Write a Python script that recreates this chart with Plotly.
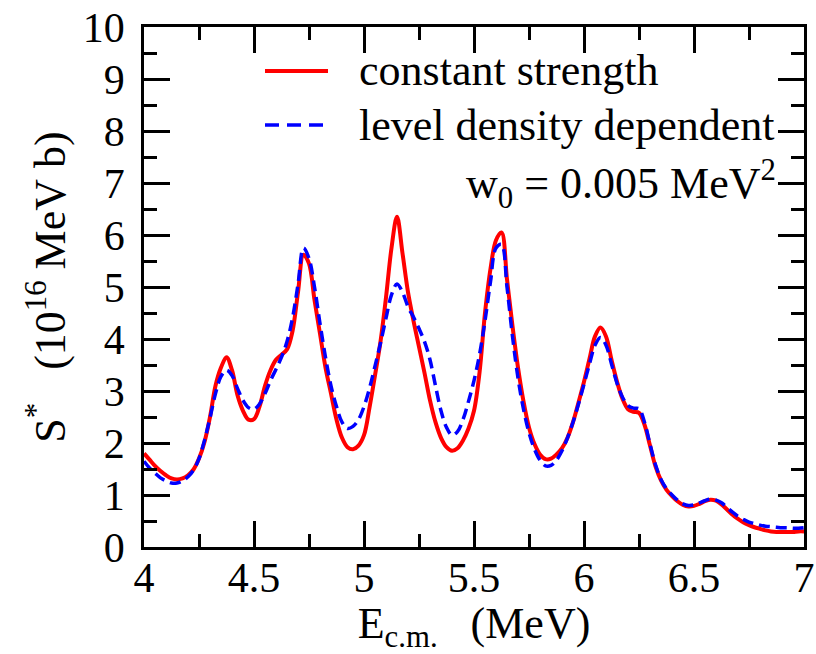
import plotly.graph_objects as go

# E_c.m. grid (MeV), step 0.025
energy = [round(4.0 + 0.025 * i, 3) for i in range(121)]

# constant strength (red, solid) at each grid energy
s_const = [1.80, 1.68, 1.56, 1.46, 1.38, 1.32, 1.30, 1.32, 1.38, 1.49,   # 4.000-4.225
           1.70, 2.02, 2.50, 3.10, 3.45, 3.65, 3.40, 2.92, 2.62, 2.45,   # 4.250-4.475
           2.46, 2.70, 3.10, 3.40, 3.60, 3.70, 3.80, 4.15, 4.90, 5.62,   # 4.500-4.725
           5.45, 4.75, 4.10, 3.45, 2.95, 2.45, 2.10, 1.92, 1.88, 1.95,   # 4.750-4.975
           2.15, 2.68, 3.30, 3.95, 4.80, 5.75, 6.35, 5.65, 4.90, 4.35,   # 5.000-5.225
           3.85, 3.35, 2.82, 2.40, 2.10, 1.92, 1.85, 1.90, 2.05, 2.28,   # 5.250-5.475
           2.62, 3.35, 4.50, 5.35, 5.90, 6.05, 5.15, 4.25, 3.45, 2.80,   # 5.500-5.725
           2.30, 1.98, 1.78, 1.69, 1.70, 1.78, 1.90, 2.10, 2.40, 2.78,   # 5.750-5.975
           3.18, 3.62, 4.05, 4.22, 4.05, 3.60, 3.18, 2.85, 2.65, 2.60,   # 6.000-6.225
           2.58, 2.35, 1.95, 1.55, 1.28, 1.10, 0.98, 0.88, 0.81, 0.78,   # 6.250-6.475
           0.79, 0.83, 0.88, 0.91, 0.89, 0.82, 0.72, 0.62, 0.54, 0.47,   # 6.500-6.725
           0.42, 0.38, 0.35, 0.32, 0.30, 0.29, 0.29, 0.29, 0.29, 0.30,   # 6.750-6.975
           0.30]                                                         # 7.000

# level density dependent (blue, dashed)
s_ldd = [1.65, 1.52, 1.42, 1.33, 1.27, 1.23, 1.23, 1.27, 1.35, 1.48,     # 4.000-4.225
         1.70, 2.05, 2.48, 2.95, 3.28, 3.40, 3.30, 3.05, 2.82, 2.68,     # 4.250-4.475
         2.65, 2.75, 2.95, 3.20, 3.42, 3.65, 3.95, 4.40, 5.05, 5.75,     # 4.500-4.725
         5.55, 5.00, 4.30, 3.65, 3.10, 2.70, 2.40, 2.28, 2.32, 2.45,     # 4.750-4.975
         2.70, 3.05, 3.48, 3.92, 4.40, 4.85, 5.06, 4.90, 4.62, 4.42,     # 5.000-5.225
         4.20, 3.95, 3.60, 3.10, 2.62, 2.30, 2.15, 2.22, 2.45, 2.80,     # 5.250-5.475
         3.20, 3.70, 4.35, 5.10, 5.75, 5.82, 5.00, 4.05, 3.25, 2.65,     # 5.500-5.725
         2.20, 1.88, 1.67, 1.56, 1.57, 1.67, 1.85, 2.10, 2.40, 2.75,     # 5.750-5.975
         3.13, 3.52, 3.88, 4.03, 3.88, 3.52, 3.15, 2.88, 2.72, 2.67,     # 6.000-6.225
         2.66, 2.40, 1.98, 1.58, 1.30, 1.12, 1.00, 0.90, 0.83, 0.80,     # 6.250-6.475
         0.81, 0.85, 0.89, 0.92, 0.90, 0.85, 0.76, 0.67, 0.59, 0.53,     # 6.500-6.725
         0.48, 0.45, 0.42, 0.40, 0.39, 0.38, 0.37, 0.37, 0.36, 0.36,     # 6.750-6.975
         0.37]                                                           # 7.000

series_names = ["constant strength", "level density dependent"]
note_text = "w<sub>0</sub> = 0.005 MeV<sup>2</sup>"
x_ticks = [4, 4.5, 5, 5.5, 6, 6.5, 7]
y_ticks = list(range(0, 11))

FONT = "Times New Roman, Liberation Serif, serif"
L, R, T, B = 144, 12, 27, 107
W, H = 816, 654
pw, ph = W - L - R, H - T - B

def px(xp):
    return (xp - L) / pw

def py(yp):
    return (H - B - yp) / ph

fig = go.Figure()
fig.add_trace(go.Scatter(x=energy, y=s_const, mode="lines", name=series_names[0],
                         line=dict(color="#ff0000", width=4, shape="spline", smoothing=1.0)))
fig.add_trace(go.Scatter(x=energy, y=s_ldd, mode="lines", name=series_names[1],
                         line=dict(color="#0000ff", width=3.5, dash="11px,6px", shape="spline", smoothing=1.0)))

axis_common = dict(showline=True, linewidth=2.5, linecolor="black", mirror="allticks",
                   ticks="inside", tickwidth=2.5, tickcolor="black", ticklen=26,
                   showgrid=False, zeroline=False, automargin=False,
                   tickfont=dict(family=FONT, size=42, color="black"))

fig.update_layout(
    width=W, height=H,
    margin=dict(l=L, r=R, t=T, b=B),
    paper_bgcolor="white", plot_bgcolor="white",
    showlegend=False,
    font=dict(family=FONT, color="black"),
    xaxis=dict(range=[4, 7], tickmode="array", tickvals=x_ticks,
               minor=dict(dtick=0.25, ticks="inside", ticklen=13, tickwidth=2.5, tickcolor="black"),
               ticklabelstandoff=-8,
               title=dict(text="E<sub>c.m.</sub>\u00a0\u00a0\u00a0(MeV)",
                          font=dict(family=FONT, size=44, color="black"), standoff=4),
               **axis_common),
    yaxis=dict(range=[0, 10], tickmode="array", tickvals=y_ticks,
               minor=dict(dtick=0.5, ticks="inside", ticklen=13, tickwidth=2.5, tickcolor="black"),
               ticklabelstandoff=8,
               title=dict(text="S<sup>*</sup>\u00a0\u00a0\u00a0(10<sup>16</sup>\u00a0MeV\u00a0b)",
                          font=dict(family=FONT, size=44, color="black"), standoff=4),
               **axis_common),
)

# manual legend
fig.add_shape(type="line", xref="paper", yref="paper", x0=px(265), x1=px(328), y0=py(71), y1=py(71),
              line=dict(color="#ff0000", width=4))
fig.add_shape(type="line", xref="paper", yref="paper", x0=px(265), x1=px(328), y0=py(125), y1=py(125),
              line=dict(color="#0000ff", width=3.5, dash="14px,8px"))
fig.add_annotation(xref="paper", yref="paper", x=px(357), y=py(70), text=series_names[0],
                   showarrow=False, xanchor="left", yanchor="middle",
                   font=dict(family=FONT, size=44, color="black"))
fig.add_annotation(xref="paper", yref="paper", x=px(357), y=py(125), text=series_names[1],
                   showarrow=False, xanchor="left", yanchor="middle",
                   font=dict(family=FONT, size=44, color="black"))
fig.add_annotation(xref="paper", yref="paper", x=px(778), y=py(184), text=note_text,
                   showarrow=False, xanchor="right", yanchor="middle",
                   font=dict(family=FONT, size=44, color="black"))

fig.write_html("out.html")
